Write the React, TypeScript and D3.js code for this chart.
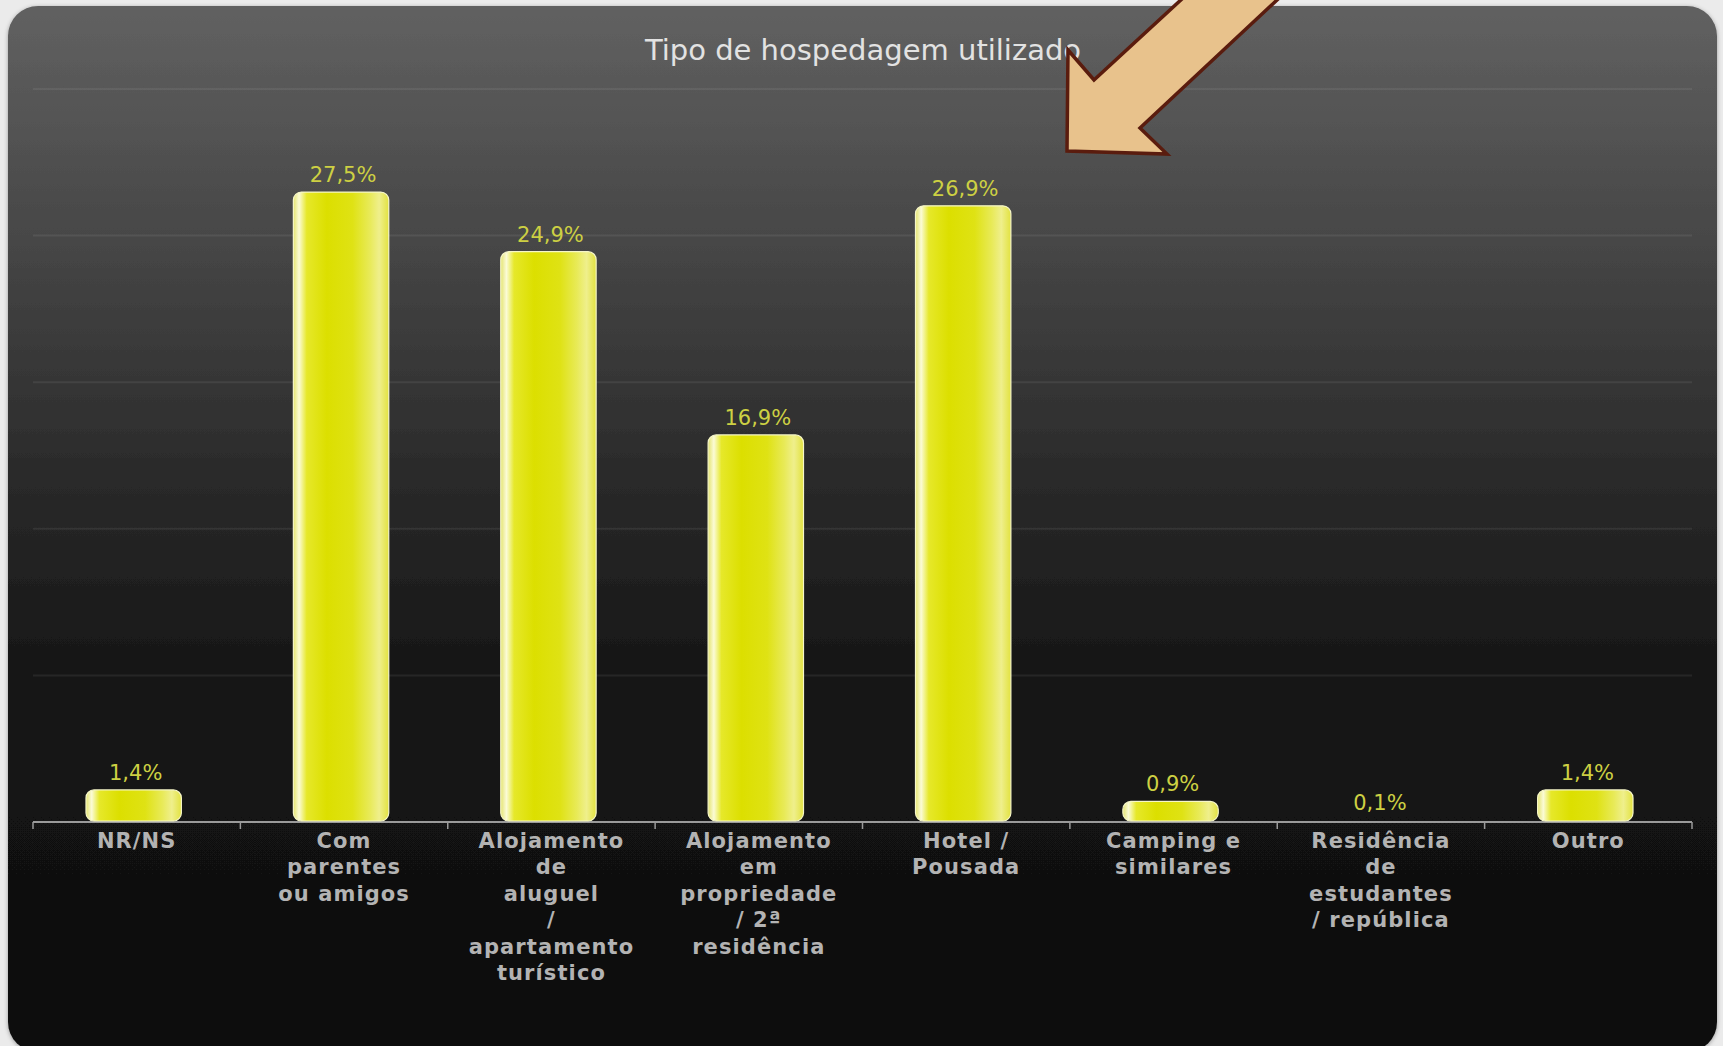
import React from 'react'
import * as d3 from 'd3'

// categories, one entry per bar; inner arrays are the wrapped label lines
const CATEGORIES = [
  ['NR/NS'],
  ['Com', 'parentes', 'ou amigos'],
  ['Alojamento', 'de', 'aluguel', '/', 'apartamento', 'turístico'],
  ['Alojamento', 'em', 'propriedade', '/ 2ª', 'residência'],
  ['Hotel /', 'Pousada'],
  ['Camping e', 'similares'],
  ['Residência', 'de', 'estudantes', '/ república'],
  ['Outro'],
]
const VALUES = [1.4, 27.5, 24.9, 16.9, 26.9, 0.9, 0.1, 1.4]
const Y_MAX = 32
const GRID_VALUES = [6.4, 12.8, 19.2, 25.6, 32]
const TITLE = 'Tipo de hospedagem utilizado'

const W = 1723
const H = 1046
const FONT = "'DejaVu Sans', Verdana, sans-serif"

const ptBR = d3.formatLocale({ decimal: ',', thousands: '.', grouping: [3], currency: ['', ''] })
const fmt = (v: number) => ptBR.format('.1f')(v) + '%'

// annotation arrow drawn over the picture
const ARROW = 'M1196,-14 L1094,80 L1068,50 L1067,151 L1167,154 L1140,128 L1292,-14 Z'

export default function App() {
  const left = 33
  const right = 1692
  const top = 89
  const bottom = 822

  const keys = CATEGORIES.map((_, i) => String(i))
  const slot = d3.scaleBand<string>().domain(keys).range([left, right]).padding(0)
  const y = d3.scaleLinear().domain([0, Y_MAX]).range([bottom, top])
  const barW = slot.bandwidth() * 0.46

  const boundaries = d3.range(CATEGORIES.length + 1).map(i => left + i * slot.step())

  return (
    <div style={{ position: 'absolute', left: 0, top: 0 }}>
      <svg width={W} height={H} style={{ display: 'block' }}>
        <defs>
          <linearGradient id="panelBg" x1="0" y1="0" x2="0" y2="1">
            <stop offset="0" stopColor="#616161" />
            <stop offset="0.22" stopColor="#474747" />
            <stop offset="0.45" stopColor="#2a2a2a" />
            <stop offset="0.66" stopColor="#141414" />
            <stop offset="1" stopColor="#0e0e0e" />
          </linearGradient>
          <linearGradient id="barFill" x1="0" y1="0" x2="1" y2="0">
            <stop offset="0" stopColor="#e4e470" />
            <stop offset="0.06" stopColor="#fbfbd6" />
            <stop offset="0.14" stopColor="#e6e82a" />
            <stop offset="0.35" stopColor="#dcdf00" />
            <stop offset="0.62" stopColor="#dfe214" />
            <stop offset="0.8" stopColor="#e8ea58" />
            <stop offset="0.9" stopColor="#efef8c" />
            <stop offset="1" stopColor="#e2e240" />
          </linearGradient>
          <filter id="shadow" x="-5%" y="-5%" width="110%" height="110%">
            <feDropShadow dx="0" dy="1" stdDeviation="2" floodColor="#000" floodOpacity="0.35" />
          </filter>
        </defs>

        <rect x={0} y={0} width={W} height={H} fill="#ebebeb" />
        <rect x={8} y={6} width={1709} height={1046} rx={30} fill="url(#panelBg)" filter="url(#shadow)" />

        <text x={863} y={60} textAnchor="middle" fontFamily={FONT} fontSize={29} fill="#e2e2e2">
          {TITLE}
        </text>

        {GRID_VALUES.map(v => (
          <line key={v} x1={left} x2={right} y1={y(v)} y2={y(v)} stroke="#ffffff" strokeOpacity={0.07} strokeWidth={2} />
        ))}

        <line x1={left} x2={right} y1={bottom} y2={bottom} stroke="#9a9a9a" strokeWidth={2} />
        {boundaries.map((bx, i) => (
          <line key={i} x1={bx} x2={bx} y1={bottom} y2={bottom + 7} stroke="#9a9a9a" strokeWidth={1.5} />
        ))}

        {VALUES.map((v, i) => {
          const cx = (slot(String(i)) ?? 0) + slot.bandwidth() / 2
          const yTop = y(v)
          const h = bottom - 1 - yTop
          const r = Math.min(8, h / 2)
          return (
            <g key={i}>
              {h >= 3 && (
                <rect
                  x={cx - 3 - barW / 2}
                  y={yTop}
                  width={barW}
                  height={h}
                  rx={r}
                  fill="url(#barFill)"
                  stroke="#f6f6c8"
                  strokeWidth={1.2}
                />
              )}
              <text x={cx - 1} y={yTop - 10} textAnchor="middle" fontFamily={FONT} fontSize={21} fill="#cdd043">
                {fmt(v)}
              </text>
            </g>
          )
        })}

        {CATEGORIES.map((lines, i) => {
          const cx = (slot(String(i)) ?? 0) + slot.bandwidth() / 2
          return (
            <text key={i} textAnchor="middle" fontFamily={FONT} fontSize={21} fontWeight="bold" fill="#b3b3b3" letterSpacing={1.1}>
              {lines.map((ln, j) => (
                <tspan key={j} x={cx} y={bottom + 26 + j * 26.4}>
                  {ln}
                </tspan>
              ))}
            </text>
          )
        })}

        <path d={ARROW} fill="#e8c28c" stroke="#5a1c0e" strokeWidth={3.5} strokeLinejoin="miter" />
      </svg>
    </div>
  )
}
